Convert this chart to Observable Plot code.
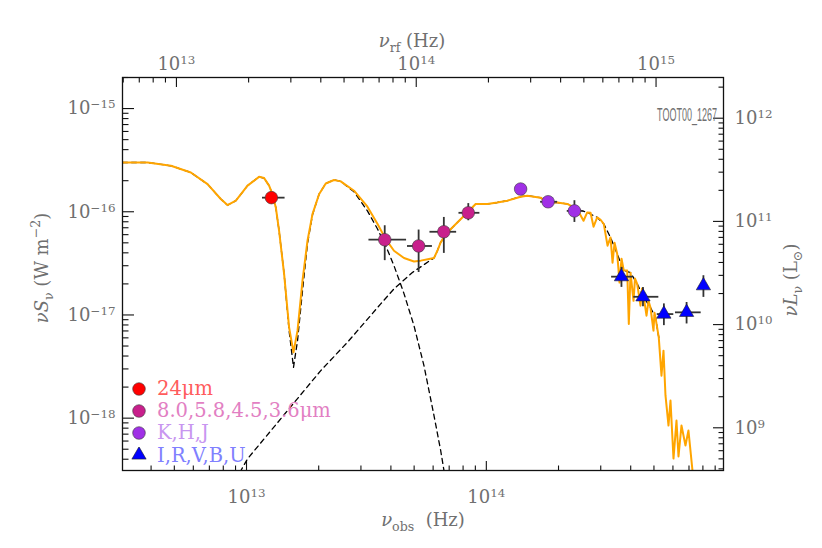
<!DOCTYPE html>
<html><head><meta charset="utf-8">
<script src="https://cdn.jsdelivr.net/npm/d3@7"></script>
<script src="https://cdn.jsdelivr.net/npm/@observablehq/plot@0.6"></script>
<style>
body{margin:0;background:#fff;}
#wrap{position:relative;width:822px;height:548px;}
#legend{position:absolute;left:131px;top:377.5px;font-family:"DejaVu Serif",serif;font-size:19.5px;}
.row{display:flex;align-items:center;height:22.2px;white-space:nowrap;}
.row svg{width:16px;height:16px;margin-right:10px;flex:none;}
</style></head>
<body><div id="wrap"><div id="legend"></div></div>
<script>
// ---- values ----
const onePlusZ = 1.96;          // nu_rf / nu_obs
const lumFactor = 1.24e27;      // nuL_nu (Lsun) / nuS_nu (W m^-2)
const xDomain = [3.04e12, 9.75e14];
const yDomain = [3.11e-19, 2.0e-15];
const sourceName = "TOOT00_1267";

// total model (orange)
const modelNu = [3.04e12,3.87e12,4.84e12,5.86e12,6.88e12,7.81e12,8.33e12,9.03e12,1.010e13,1.128e13,1.184e13,1.242e13,1.283e13,1.325e13,1.367e13,1.435e13,1.505e13,1.570e13,1.632e13,1.712e13,1.796e13,1.884e13,2.007e13,2.140e13,2.317e13,2.471e13,2.808e13,3.193e13,3.514e13,3.805e13,4.121e13,4.536e13,4.992e13,5.324e13,5.767e13,6.050e13,6.250e13,6.451e13,6.878e13,7.571e13,8.334e13,9.025e13,1.010e14,1.111e14,1.223e14,1.390e14,1.482e14,1.684e14,1.796e14,1.976e14,2.175e14,2.394e14,2.543e14,2.635e14,2.720e14,2.800e14,2.900e14,2.995e14,3.090e14,3.202e14,3.295e14,3.360e14,3.425e14,3.514e14,3.593e14,3.663e14,3.744e14,3.868e14,3.928e14,3.993e14,4.109e14,4.169e14,4.257e14,4.394e14,4.458e14,4.536e14,4.655e14,4.745e14,4.836e14,4.978e14,5.026e14,5.074e14,5.237e14,5.375e14,5.480e14,5.586e14,5.750e14,5.861e14,6.032e14,6.208e14,6.329e14,6.513e14,6.768e14,6.964e14,7.238e14,7.522e14];
const modelFlux = [3.00e-16,3.00e-16,2.79e-16,2.40e-16,1.85e-16,1.33e-16,1.16e-16,1.28e-16,1.79e-16,2.18e-16,2.12e-16,1.79e-16,1.48e-16,1.10e-16,6.55e-17,2.49e-17,7.59e-18,4.34e-18,7.05e-18,2.15e-17,5.24e-17,9.50e-17,1.48e-16,1.88e-16,2.03e-16,1.97e-16,1.60e-16,1.12e-16,7.65e-17,5.44e-17,4.19e-17,3.56e-17,3.30e-17,3.36e-17,3.48e-17,3.56e-17,4.19e-17,5.05e-17,6.30e-17,7.88e-17,9.85e-17,1.19e-16,1.19e-16,1.23e-16,1.28e-16,1.40e-16,1.43e-16,1.37e-16,1.23e-16,1.23e-16,1.19e-16,1.06e-16,8.18e-17,9.85e-17,9.78e-17,7.16e-17,8.81e-17,8.37e-17,7.60e-17,4.69e-17,5.64e-17,3.21e-17,5.01e-17,3.90e-17,2.06e-17,3.51e-17,2.69e-17,2.69e-17,8.18e-18,2.57e-17,1.37e-17,2.25e-17,2.00e-17,1.23e-17,1.80e-17,1.48e-17,9.84e-18,1.37e-17,1.18e-17,7.05e-18,1.05e-17,9.48e-18,6.07e-18,2.58e-18,4.51e-18,1.66e-18,8.48e-19,1.48e-18,4.06e-19,9.48e-19,4.25e-19,8.48e-19,5.43e-19,7.59e-19,3.11e-19,1.99e-19];

// dust component (dashed)
const dustNu = [3.04e12,3.87e12,4.84e12,5.86e12,6.88e12,7.81e12,8.33e12,9.03e12,1.010e13,1.128e13,1.184e13,1.242e13,1.283e13,1.325e13,1.367e13,1.435e13,1.505e13,1.570e13,1.632e13,1.712e13,1.796e13,1.884e13,2.007e13,2.140e13,2.317e13,2.471e13,2.808e13,3.193e13,3.514e13,3.805e13,4.121e13,4.536e13,4.992e13,5.495e13,6.050e13,6.451e13,6.658e13,6.898e13];
const dustFlux = [3.00e-16,3.00e-16,2.79e-16,2.40e-16,1.85e-16,1.33e-16,1.16e-16,1.28e-16,1.79e-16,2.18e-16,2.12e-16,1.79e-16,1.48e-16,1.10e-16,6.55e-17,2.49e-17,7.05e-18,3.11e-18,5.64e-18,1.72e-17,4.90e-17,9.35e-17,1.48e-16,1.88e-16,2.03e-16,1.97e-16,1.56e-16,1.02e-16,6.85e-17,4.69e-17,3.00e-17,1.61e-17,7.88e-18,3.23e-18,1.06e-18,4.86e-19,3.11e-19,1.99e-19];

// stellar component (dashed)
const starNu = [9.0e12,1.010e13,2.040e13,2.635e13,3.627e13,4.121e13,4.917e13,5.861e13,6.050e13,6.250e13,6.451e13,6.878e13,7.571e13,8.334e13,9.025e13,1.010e14,1.111e14,1.223e14,1.390e14,1.482e14,1.684e14,1.796e14,1.976e14,2.175e14,2.394e14,2.635e14,2.900e14,3.090e14,3.295e14,3.514e14,3.744e14,3.993e14,4.257e14,4.536e14,4.836e14,5.074e14,5.237e14];
const starFlux = [2.51e-19,4.04e-19,2.89e-18,5.43e-18,1.28e-17,1.79e-17,2.58e-17,3.40e-17,3.56e-17,4.19e-17,5.05e-17,6.30e-17,7.88e-17,9.85e-17,1.19e-16,1.19e-16,1.23e-16,1.28e-16,1.40e-16,1.43e-16,1.37e-16,1.23e-16,1.23e-16,1.19e-16,1.06e-16,9.85e-17,8.81e-17,7.60e-17,5.64e-17,3.90e-17,2.69e-17,2.57e-17,2.00e-17,1.48e-17,1.18e-17,9.48e-18,6.07e-18];

// photometry
const photBand  = ["24μm","8.0μm","5.8μm","4.5μm","3.6μm","K","H","J","I","R","V","B","U"];
const photGroup = [0,1,1,1,1,2,2,2,3,3,3,3,3];
const photNu    = [1.27e13,3.77e13,5.22e13,6.65e13,8.41e13,1.39e14,1.81e14,2.33e14,3.66e14,4.50e14,5.50e14,6.84e14,8.04e14];
const photFlux  = [1.37e-16,5.36e-17,4.66e-17,6.40e-17,9.77e-17,1.66e-16,1.25e-16,1.02e-16,2.35e-17,1.50e-17,1.02e-17,1.06e-17,1.92e-17];
const photNuLo  = [1.166e13,3.24e13,4.69e13,5.82e13,7.69e13,null,1.684e14,2.175e14,3.33e14,4.12e14,5.16e14,6.15e14,null];
const photNuHi  = [1.448e13,4.65e13,5.96e13,7.52e13,9.40e13,null,1.98e14,2.551e14,4.08e14,5.24e14,6.05e14,7.87e14,null];
const photFluxLo = [null,3.36e-17,2.58e-17,3.95e-17,8.18e-17,null,null,7.88e-17,1.85e-17,1.20e-17,7.88e-18,8.18e-18,1.48e-17];
const photFluxHi = [null,7.32e-17,6.65e-17,8.81e-17,1.20e-16,null,null,1.28e-16,2.89e-17,1.85e-17,1.28e-17,1.32e-17,2.40e-17];

const groupLabels = ["24μm","8.0,5.8,4.5,3.6μm","K,H,J","I,R,V,B,U"];

// ---- styles ----
const groupFill = ["#ff0000","#c8208c","#a030e6","#0000ff"];
const groupText = ["#ff5c5c","#e27fc3","#c896f0","#8080ff"];
const groupSymbol = ["circle","circle","circle","triangle"];
const labelColor = "#707070";
const serif = "DejaVu Serif, serif";

// ---- tables ----
const model = modelNu.map((nu,i)=>({nu, flux:modelFlux[i]}));
const dust = dustNu.map((nu,i)=>({nu, flux:dustFlux[i]}));
const star = starNu.map((nu,i)=>({nu, flux:starFlux[i]}));
const phot = photNu.map((nu,i)=>({band:photBand[i], group:photGroup[i], nu, flux:photFlux[i],
  nuLo:photNuLo[i], nuHi:photNuHi[i], fLo:photFluxLo[i], fHi:photFluxHi[i]}));

// ---- ticks ----
const isMajor = v => Math.abs(Math.log10(v) - Math.round(Math.log10(v))) < 1e-9;
const fmtPow = v => { const e = Math.round(Math.log10(v)); return "10^" + (e < 0 ? "\u2212" + (-e) : e); };
const inside = (v, dom) => v >= dom[0]*0.999 && v <= dom[1]*1.001;

const xTicks = d3.scaleLog().domain(xDomain).ticks().filter(v=>inside(v,xDomain));
const yTicks = d3.scaleLog().domain(yDomain).ticks().filter(v=>inside(v,yDomain));
const rfTicks = d3.scaleLog().domain(xDomain.map(v=>v*onePlusZ)).ticks().filter(v=>inside(v/onePlusZ,xDomain));
const lTicks = d3.scaleLog().domain(yDomain.map(v=>v*lumFactor)).ticks().filter(v=>inside(v/lumFactor,yDomain));
const maj = a => a.filter(isMajor), mnr = a => a.filter(v=>!isMajor(v));

const tickStyle = {fill:"none", stroke:"#111", strokeWidth:1.1};
const labStyle = {tickSize:0, label:null, fill:labelColor, fontSize:18, fontFamily:serif, tickFormat:fmtPow};

const chart = Plot.plot({
  width: 822, height: 548,
  marginLeft: 122, marginRight: 99, marginTop: 77, marginBottom: 78,
  x: {type:"log", domain:xDomain},
  y: {type:"log", domain:yDomain},
  color: {type:"identity"},
  style: {background:"#fff", color:"#111", fontFamily:serif},
  marks: [
    Plot.axisX(mnr(xTicks), {anchor:"bottom", tickSize:-4.5, ...tickStyle}),
    Plot.axisX(maj(xTicks), {anchor:"bottom", tickSize:-9, ...tickStyle}),
    Plot.axisX(maj(xTicks), {anchor:"bottom", tickPadding:20, ...labStyle}),
    Plot.axisX(mnr(rfTicks), {anchor:"top", x:d=>d/onePlusZ, tickSize:-4.5, ...tickStyle}),
    Plot.axisX(maj(rfTicks), {anchor:"top", x:d=>d/onePlusZ, tickSize:-9, ...tickStyle}),
    Plot.axisX(maj(rfTicks), {anchor:"top", x:d=>d/onePlusZ, tickPadding:8, ...labStyle}),
    Plot.axisY(mnr(yTicks), {anchor:"left", tickSize:-6.5, ...tickStyle}),
    Plot.axisY(maj(yTicks), {anchor:"left", tickSize:-12, ...tickStyle}),
    Plot.axisY(maj(yTicks), {anchor:"left", tickPadding:7, ...labStyle}),
    Plot.axisY(mnr(lTicks), {anchor:"right", y:d=>d/lumFactor, tickSize:-5.5, ...tickStyle}),
    Plot.axisY(maj(lTicks), {anchor:"right", y:d=>d/lumFactor, tickSize:-11, ...tickStyle}),
    Plot.axisY(maj(lTicks), {anchor:"right", y:d=>d/lumFactor, tickPadding:11, ...labStyle}),
    Plot.line(dust, {x:"nu", y:"flux", stroke:"#000", strokeWidth:1.3, strokeDasharray:"5,4", clip:true}),
    Plot.line(star, {x:"nu", y:"flux", stroke:"#000", strokeWidth:1.3, strokeDasharray:"5,4", clip:true}),
    Plot.line(model, {x:"nu", y:"flux", stroke:"#ffa500", strokeWidth:2, clip:true}),
    Plot.ruleY(phot.filter(d=>d.nuLo!=null), {y:"flux", x1:"nuLo", x2:"nuHi", stroke:"#333", strokeWidth:1.8}),
    Plot.ruleX(phot.filter(d=>d.fLo!=null), {x:"nu", y1:"fLo", y2:"fHi", stroke:"#333", strokeWidth:1.8}),
    Plot.dot(phot.filter(d=>groupSymbol[d.group]==="circle"), {x:"nu", y:"flux", r:6.3, fill:d=>groupFill[d.group], stroke:"#3a3a3a", strokeWidth:0.6}),
    Plot.dot(phot.filter(d=>groupSymbol[d.group]==="triangle"), {x:"nu", y:"flux", r:5.3, symbol:"triangle", fill:d=>groupFill[d.group], stroke:"#222", strokeWidth:0.6}),
    Plot.frame({stroke:"#111", strokeWidth:1.3})
  ]
});

const NS = "http://www.w3.org/2000/svg";
chart.querySelectorAll("text").forEach(t => {
  const s = t.textContent, i = s.indexOf("^");
  if (i < 0) return;
  t.textContent = s.slice(0, i);
  const ts = document.createElementNS(NS, "tspan");
  ts.setAttribute("dy", "-0.5em");
  ts.setAttribute("font-size", "0.66em");
  ts.textContent = s.slice(i + 1);
  t.appendChild(ts);
});

const svg = d3.select(chart);
function rich(x, y, rot, parts, fs) {
  const t = svg.append("text").attr("transform", `translate(${x},${y}) rotate(${rot})`)
    .attr("text-anchor","middle").attr("font-family",serif).attr("font-size",fs).attr("fill",labelColor);
  let shift = 0;
  for (const [txt, kind] of parts) {
    const sp = t.append("tspan").text(txt);
    let target = kind === "sub" ? 0.3*fs : kind === "sup" ? -0.45*fs : 0;
    if (target !== shift) sp.attr("dy", target - shift);
    if (kind) sp.attr("font-size", fs*0.7);
    if (kind !== "sub" && kind !== "sup" && txt.startsWith("ν")) sp.attr("font-style","italic");
    shift = target;
  }
}
rich(48, 268, -90, [["νS",null],["ν","sub"],[" (W m",null],["\u22122","sup"],[")",null]], 18);
rich(797, 280, -90, [["νL",null],["ν","sub"],[" (L",null],["⊙","sub"],[")",null]], 18);
rich(423, 526, 0, [["ν",null],["obs","sub"],["  (Hz)",null]], 18);
rich(412, 47, 0, [["ν",null],["rf","sub"],[" (Hz)",null]], 18);

const wrap = document.getElementById("wrap");
wrap.insertBefore(chart, wrap.firstChild);

// source name, condensed to the width seen in the reference
const title = svg.append("text").attr("text-anchor","end")
  .attr("font-family","Liberation Sans Narrow, Liberation Sans, sans-serif").attr("font-size",19).attr("fill",labelColor)
  .text(sourceName);
const natural = title.node().getComputedTextLength();
title.attr("transform", `translate(717,121) scale(${Math.min(1, 60/natural)},1)`);

const legend = d3.select("#legend");
groupLabels.forEach((lab, g) => {
  const row = legend.append("div").attr("class","row");
  const s = row.append("svg").attr("viewBox","-8 -8 16 16");
  if (groupSymbol[g] === "circle") s.append("circle").attr("r",6.3).attr("fill",groupFill[g]).attr("stroke","#3a3a3a").attr("stroke-width",0.6);
  else s.append("path").attr("d", d3.symbol(d3.symbolTriangle, Math.PI*5.3*5.3)()).attr("fill",groupFill[g]).attr("stroke","#222").attr("stroke-width",0.6);
  row.append("span").style("color", groupText[g]).text(lab);
});
</script></body></html>
